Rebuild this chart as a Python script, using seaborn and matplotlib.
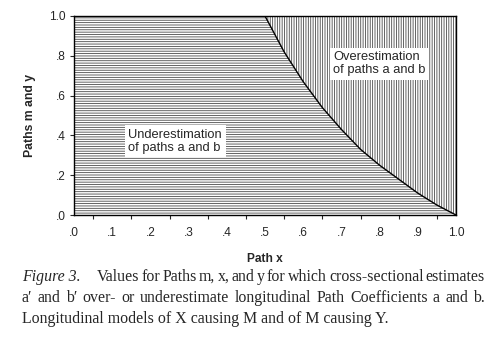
import pandas as pd
import seaborn as sns
import matplotlib
matplotlib.use('Agg')
import matplotlib.pyplot as plt

# boundary between under- and overestimation
path_x = [0.50, 0.55, 0.60, 0.65, 0.70, 0.75, 0.80, 0.85, 0.90, 0.95, 1.00]
path_my = [1.00, 0.82, 0.67, 0.54, 0.43, 0.33, 0.25, 0.18, 0.11, 0.05, 0.00]

x_ticks = [0.0, 0.1, 0.2, 0.3, 0.4, 0.5, 0.6, 0.7, 0.8, 0.9, 1.0]
x_labels = ['.0', '.1', '.2', '.3', '.4', '.5', '.6', '.7', '.8', '.9', '1.0']
x_minor = [0.05, 0.15, 0.25, 0.35, 0.45, 0.55, 0.65, 0.75, 0.85, 0.95]
y_ticks = [0.0, 0.2, 0.4, 0.6, 0.8, 1.0]
y_labels = ['.0', '.2', '.4', '.6', '.8', '1.0']

caption = [
    ['Figure 3.', 'Values', 'for', 'Paths', 'm,', 'x,', 'and', 'y', 'for', 'which',
     'cross-sectional', 'estimates'],
    ['a\u2032', 'and', 'b\u2032', 'over-', 'or', 'underestimate', 'longitudinal', 'Path',
     'Coefficients', 'a', 'and', 'b.'],
    ['Longitudinal models of X causing M and of M causing Y.'],
]

sns.set_style('white')
plt.rcParams['font.family'] = ['Liberation Sans', 'DejaVu Sans']
plt.rcParams['hatch.linewidth'] = 0.6

W, H = 496, 355
fig = plt.figure(figsize=(W / 100, H / 100), dpi=100)
ax = fig.add_axes([74 / W, (H - 215) / H, 382 / W, 199 / H])

df = pd.DataFrame({'x': path_x, 'y': path_my})

# region under the curve (horizontal lines) and above it (vertical lines)
ax.fill_between([0.0] + path_x, [1.0] + path_my, 0, facecolor='white',
                edgecolor='#4a4a4a', hatch='-' * 7, linewidth=0)
ax.fill_between(path_x, path_my, 1.0, facecolor='white',
                edgecolor='#4a4a4a', hatch='|' * 7, linewidth=0)
sns.lineplot(data=df, x='x', y='y', color='black', linewidth=1, ax=ax)

ax.set_xlim(0, 1)
ax.set_ylim(0, 1)
ax.set_xticks(x_ticks)
ax.set_xticklabels(x_labels)
ax.set_xticks(x_minor, minor=True)
ax.set_yticks(y_ticks)
ax.set_yticklabels(y_labels)
ax.tick_params(axis='x', which='major', length=0, pad=9, labelsize=8.6)
ax.tick_params(axis='x', which='minor', length=3, width=0.8, direction='out', bottom=True)
ax.tick_params(axis='y', length=3, width=0.8, direction='out', left=True, pad=3, labelsize=8.6)
for s in ax.spines.values():
    s.set_color('black')
    s.set_linewidth(1)

ax.set_xlabel('Path x', fontsize=8.6, fontweight='bold')
ax.set_ylabel('Paths m and y', fontsize=8.8, fontweight='bold')
ax.xaxis.set_label_coords(0.5, -0.19)
ax.yaxis.set_label_coords(-0.10, 0.5)

box = dict(facecolor='white', edgecolor='none', pad=2.5)
ax.text(0.265, 0.37, 'Underestimation\nof paths a and b', ha='center', va='center',
        multialignment='left', fontsize=9.3, bbox=box, linespacing=1.1)
ax.text(0.80, 0.76, 'Overestimation\nof paths a and b', ha='center', va='center',
        multialignment='left', fontsize=9.3, bbox=box, linespacing=1.1)

# caption, justified like the printed page
renderer = fig.canvas.get_renderer()
left_px, right_px = 22, 485
baselines = [281, 302, 323]
for i, words in enumerate(caption):
    y = 1 - baselines[i] / H
    texts = []
    for w in words:
        style = 'italic' if w.startswith('Figure') else 'normal'
        texts.append(fig.text(0, y, w, fontsize=11.4, family=['Liberation Serif', 'DejaVu Serif'],
                              style=style, va='baseline', ha='left'))
    widths = [t.get_window_extent(renderer).width for t in texts]
    extra = [0] * len(texts)
    if i == 0:
        extra[1] = 14
    if len(texts) > 1:
        gap = (right_px - left_px - sum(widths) - sum(extra)) / (len(texts) - 1)
    else:
        gap = 0
    pos = left_px
    for t, w, e in zip(texts, widths, extra):
        pos += e
        t.set_x(pos / W)
        pos += w + gap

fig.savefig('out.png', dpi=100)
